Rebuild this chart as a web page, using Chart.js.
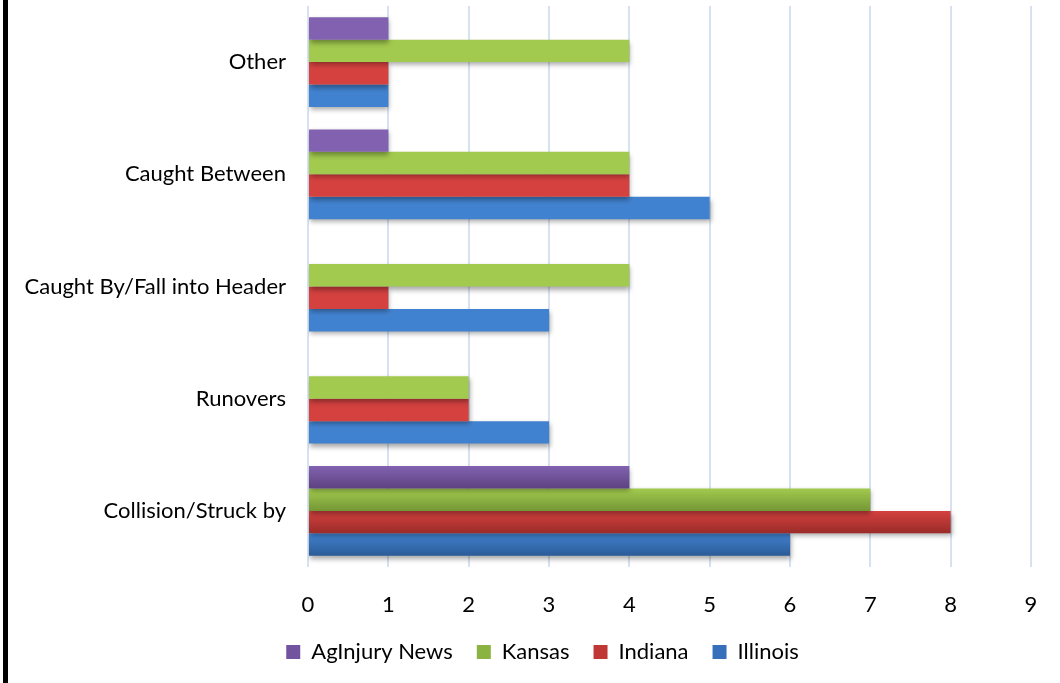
<!DOCTYPE html>
<html><head><meta charset="utf-8">
<script src="https://cdn.jsdelivr.net/npm/chart.js@4"></script>
<style>
html,body{margin:0;padding:0;background:#fff;}
#wrap{position:relative;width:1060px;height:683px;}
#bar{position:absolute;left:3px;top:0;width:5px;height:683px;background:#000;}
canvas{position:absolute;left:0;top:0;}
</style></head><body>
<div id="wrap"><canvas id="c" width="1060" height="683"></canvas><div id="bar"></div></div>
<script>
const categories = ["Other", "Caught Between", "Caught By/Fall into Header", "Runovers", "Collision/Struck by"];
const seriesNames = ["AgInjury News", "Kansas", "Indiana", "Illinois"];
const agInjuryNews = [1, 1, 0, 0, 4];
const kansas = [4, 4, 4, 2, 7];
const indiana = [1, 4, 1, 2, 8];
const illinois = [1, 5, 3, 3, 6];
const xTicks = [0,1,2,3,4,5,6,7,8,9];

const colorsTop = ["#8262b0", "#a2ca4e", "#d4413f", "#4182d0"];
const colorsBottom = ["#5d4280", "#749735", "#9a2b29", "#2b5b97"];
const legendColors = ["#7253a0", "#8bb341", "#bf3836", "#3670bc"];

const FONT = "Lato, 'Open Sans', sans-serif";

const gradPlugin = {
  id: 'grad',
  afterLayout(chart) {
    const lg = chart.legend;
    if (lg) { lg.left += 27; lg.right += 27; }
  },
  beforeDatasetDraw(chart, args) {
    const ctx = chart.ctx;
    const meta = args.meta;
    const i = args.index;
    meta.data.forEach(el => {
      const h = el.height;
      const top = el.y - h/2;
      const g = ctx.createLinearGradient(0, top, 0, top + h);
      g.addColorStop(0, colorsTop[i]);
      g.addColorStop(1, colorsBottom[i]);
      el.options.backgroundColor = g;
    });
    ctx.save();
    ctx.shadowColor = 'rgba(0,0,0,0.35)';
    ctx.shadowBlur = 5;
    ctx.shadowOffsetX = 1;
    ctx.shadowOffsetY = 3;
  },
  afterDatasetDraw(chart) { chart.ctx.restore(); }
};

const allSeries = [agInjuryNews, kansas, indiana, illinois];
new Chart(document.getElementById('c'), {
  type: 'bar',
  data: {
    labels: categories,
    datasets: allSeries.map((d, i) => ({
      label: seriesNames[i],
      data: d,
      backgroundColor: legendColors[i],
      borderWidth: 0,
      categoryPercentage: 0.8,
      barPercentage: 1.0
    }))
  },
  options: {
    indexAxis: 'y',
    responsive: false,
    animation: false,
    layout: { padding: { top: 6, right: 29, left: 0, bottom: 10 } },
    scales: {
      x: {
        min: 0, max: 9,
        afterBuildTicks(s) { s.ticks = xTicks.map(v => ({ value: v })); },
        grid: { color: '#d6e2f1', lineWidth: 2, drawTicks: false },
        border: { display: false },
        ticks: { color: '#000', font: { family: FONT, size: 22 }, padding: 25 },
        afterFit(s) { s.height = 50; s.paddingLeft = 0; s.paddingRight = 0; }
      },
      y: {
        grid: { display: false, drawTicks: false },
        border: { display: false },
        ticks: { color: '#000', font: { family: FONT, size: 22 }, padding: 22 },
        afterFit(s) { s.width = 308; s.paddingTop = 0; s.paddingBottom = 0; }
      }
    },
    plugins: {
      legend: {
        position: 'bottom',
        labels: { color: '#000', font: { family: FONT, size: 22 }, boxWidth: 14, boxHeight: 14, padding: 24 }
      },
      tooltip: { enabled: false }
    }
  },
  plugins: [gradPlugin]
});
</script>
</body></html>
